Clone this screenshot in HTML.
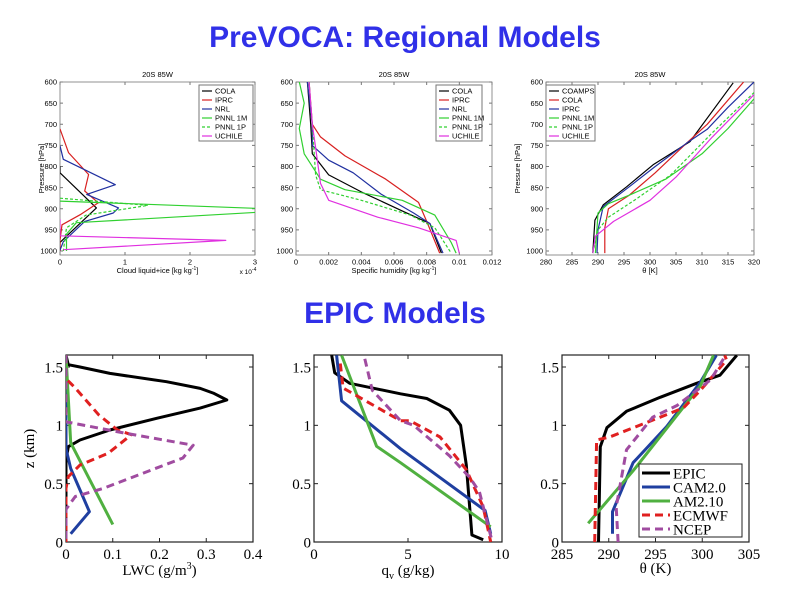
<!DOCTYPE html>
<html><head><meta charset="utf-8"><style>
body{margin:0;background:#fff;width:800px;height:600px;overflow:hidden}
svg{display:block}
</style></head><body>
<svg id="s" width="800" height="600" xmlns="http://www.w3.org/2000/svg">
<text x="405" y="47" text-anchor="middle" font-family="Liberation Sans, sans-serif" font-weight="bold" font-size="30" fill="#3030e8">PreVOCA: Regional Models</text>
<text x="395" y="323" text-anchor="middle" font-family="Liberation Sans, sans-serif" font-weight="bold" font-size="30" fill="#3030e8">EPIC Models</text>
</svg>
<script>
// ---- Top row data (pressure hPa) ----
const cloudCOLA=[[0,800],[0,815],[0.56,898],[0.1,965],[0,980],[0,1000]];
const cloudIPRC=[[0,711],[0.13,767],[0.44,819],[0.38,858],[0.59,886],[0.31,914],[0.03,938],[0,974],[0,1000]];
const cloudNRL=[[0,751],[0.05,783],[0.85,843],[0.41,866],[0.9,898],[0.82,910],[0.38,930],[0.05,978],[0,998]];
const cloudPNNL1M=[[0,882],[3.2,900],[3.2,907],[0.25,933],[0.1,960],[0.1,1000]];
const cloudPNNL1P=[[0,875],[1.35,892],[0.4,915],[0.1,945],[0.05,1000]];
const cloudUCHILE=[[0,925],[0,964],[2.55,975],[0.05,997]];
const qCOLA=[[0.0007,600],[0.0009,700],[0.001,770],[0.002,820],[0.004,860],[0.0065,905],[0.0082,935],[0.0089,1005]];
const qIPRC=[[0.0008,600],[0.001,700],[0.0015,730],[0.003,775],[0.0055,830],[0.0075,885],[0.008,930],[0.0088,1005]];
const qNRL=[[0.0007,600],[0.001,700],[0.001,750],[0.002,785],[0.0035,815],[0.0052,865],[0.0072,910],[0.0082,935],[0.009,1005]];
const qPNNL1M=[[0.0002,600],[0.0005,650],[0.0002,710],[0.0005,770],[0.0015,830],[0.003,855],[0.0065,880],[0.0085,915],[0.0095,980],[0.0098,1005]];
const qPNNL1P=[[0.0008,600],[0.001,700],[0.0012,820],[0.0015,855],[0.004,880],[0.007,915],[0.0085,945],[0.0095,1005]];
const qUCHILE=[[0.0008,600],[0.001,700],[0.0012,755],[0.0015,840],[0.002,880],[0.005,920],[0.0075,945],[0.0098,975],[0.01,1005]];
const thCOAMPS=[[289,1005],[289.4,927],[291,891],[295.5,848],[300.6,796],[307.7,741],[316,602]];
const thCOLA=[[291.3,1005],[291.3,945],[292,900],[296,868],[301,815],[307,745],[311,700],[318,600]];
const thIPRC=[[289.8,1005],[290,950],[291,895],[296,848],[301,800],[307,745],[311,712],[315,660],[320,600]];
const thPNNL1M=[[289.5,1005],[290,910],[292,888],[296,868],[303,830],[310,770],[315,710],[320,640]];
const thPNNL1P=[[289,1005],[290,950],[292,920],[297,880],[304,820],[312,720],[320,625]];
const thUCHILE=[[289,1005],[289.5,965],[293,930],[300,880],[305,825],[312,730],[320,630]];
const presTicks=[600,650,700,750,800,850,900,950,1000];
const cloudTicks=[0,1,2,3];
const qTicks=[0,0.002,0.004,0.006,0.008,0.01,0.012];
const thTopTicks=[280,285,290,295,300,305,310,315,320];
// ---- Bottom row data (z km) ----
const lwcEPIC=[[0,1.6],[0.005,1.52],[0.03,1.5],[0.094,1.445],[0.215,1.374],[0.287,1.317],[0.315,1.276],[0.344,1.217],[0.287,1.148],[0.194,1.06],[0.094,0.96],[0.03,0.874],[0.005,0.817],[0,0.7],[0,0]];
const lwcCAM=[[0,1.6],[0,0.8],[0.01,0.63],[0.05,0.26],[0.01,0.07]];
const lwcAM=[[0,1.6],[0.01,0.85],[0.1,0.15]];
const lwcECMWF=[[0,1.6],[0,1.4],[0.02,1.32],[0.07,1.09],[0.11,0.96],[0.14,0.92],[0.09,0.76],[0.03,0.66],[0.005,0.56],[0,0.46],[0,0]];
const lwcNCEP=[[0,1.6],[0,1.03],[0.13,0.93],[0.272,0.83],[0.25,0.72],[0.08,0.46],[0.02,0.39],[0,0.28],[0,0]];
const qvEPIC=[[0.94,1.6],[1.1,1.45],[1.9,1.36],[4.6,1.27],[6.0,1.23],[7.2,1.13],[7.8,1.0],[8.1,0.66],[8.4,0.06],[9.0,0.02]];
const qvCAM=[[1.2,1.6],[1.47,1.21],[4.6,0.8],[9.1,0.27],[9.4,0.07]];
const qvAM=[[1.47,1.6],[3.33,0.82],[4.6,0.68],[9.4,0.13]];
const qvECMWF=[[1.4,1.53],[1.55,1.32],[4.6,1.04],[5.1,1.04],[6.7,0.9],[8.1,0.62],[9.0,0.3],[9.4,0]];
const qvNCEP=[[2.7,1.57],[3.1,1.3],[4.6,1.04],[5.3,1.0],[7.2,0.74],[8.3,0.55],[8.8,0.43],[9.45,0.02]];
const thEPIC=[[288.9,0],[289.1,0.817],[289.8,0.98],[291.9,1.12],[295.5,1.24],[299.4,1.36],[301.9,1.43],[303.7,1.6]];
const thCAM=[[290.4,0.07],[290.4,0.26],[292.6,0.68],[296.2,0.99],[299.8,1.37],[301.5,1.6]];
const thAM=[[287.8,0.16],[292.6,0.61],[299.8,1.34],[301.2,1.6]];
const thECMWF=[[288.5,0],[288.7,0.874],[290.1,0.9],[295.5,1.07],[298,1.15],[299.8,1.3],[302.6,1.56],[302.4,1.6]];
const thNCEP=[[291,0],[290.8,0.3],[291.9,0.79],[294.7,1.07],[297.3,1.17],[300.9,1.39],[302.5,1.6]];
const zTicks=[0,0.5,1,1.5];
const lwcTicks=[0,0.1,0.2,0.3,0.4];
const qvTicks=[0,5,10];
const thBotTicks=[285,290,295,300,305];

const NS='http://www.w3.org/2000/svg';
const svg=document.getElementById('s');
function mk(tag,attrs,parent){const e=document.createElementNS(NS,tag);for(const k in attrs)e.setAttribute(k,attrs[k]);(parent||svg).appendChild(e);return e;}
function txt(x,y,s,size,anchor,font,parent){const t=mk('text',{x:x,y:y,'font-size':size,'text-anchor':anchor,'font-family':font,fill:'#000'},parent);t.textContent=s;return t;}

function panel(c){
  const g=mk('g',{});
  
  
  const sx=v=>c.x0+(v-c.xmin)/(c.xmax-c.xmin)*(c.x1-c.x0);
  const sy=v=>c.ya+(v-c.vmin)/(c.vmax-c.vmin)*(c.yb-c.ya);
  const cp='cp'+c.name;
  const d=mk('clipPath',{id:cp},g);mk('rect',{x:c.x0,y:c.top,width:c.x1-c.x0,height:c.bot-c.top},d);
  const box=mk('rect',{x:c.x0,y:c.top,width:c.x1-c.x0,height:c.bot-c.top,fill:'#fff',stroke:c.axc,'stroke-width':c.aw},g);
  
  
  const tl=c.top<300?3:4;
  c.xt.forEach(v=>{const X=sx(v);
    mk('line',{x1:X,x2:X,y1:c.bot,y2:c.bot-tl,stroke:c.axc},g);mk('line',{x1:X,x2:X,y1:c.top,y2:c.top+tl,stroke:c.axc},g);
    const t=txt(X,c.bot+c.fs+2,c.xfmt(v),c.fs,'middle',c.font,g);
    
    });
  c.yt.forEach(v=>{const Y=sy(v);
    mk('line',{x1:c.x0,x2:c.x0+tl,y1:Y,y2:Y,stroke:c.axc},g);mk('line',{x1:c.x1,x2:c.x1-tl,y1:Y,y2:Y,stroke:c.axc},g);
    const t=txt(c.x0-3,Y+c.fs*0.35,String(v),c.fs,'end',c.font,g);
    
    });
  const xl=txt((c.x0+c.x1)/2,c.xly,'',c.lfs,'middle',c.font,g);xl.innerHTML=c.xlabel;
  
  
  if(c.ylabel){const yl=txt(0,0,c.ylabel,c.lfs,'middle',c.font,g);yl.setAttribute('transform','translate('+c.ylx+','+(c.top+c.bot)/2+') rotate(-90)');
    
    }
  if(c.title){const t=txt((c.x0+c.x1)/2,c.top-5,c.title,c.fs,'middle',c.font,g);
    
    }
  const lg=mk('g',{'clip-path':'url(#'+cp+')'},g);
  c.series.forEach(s=>{
    const p=mk('polyline',{points:s.d.map(q=>sx(q[0]).toFixed(1)+','+sy(q[1]).toFixed(1)).join(' '),fill:'none',stroke:s.c,'stroke-width':c.lw,'stroke-dasharray':s.dash?c.dash:'none','stroke-linejoin':'round'},lg);
    
    
  });
  if(c.leg){const L=c.leg;
    const lb=mk('rect',{x:L.x,y:L.y,width:L.w,height:L.h,fill:'#fff',stroke:c.axc,'stroke-width':1},g);
    
    
    c.series.forEach((s,i)=>{const Y=L.y+L.p+i*L.dy;
      mk('line',{x1:L.x+3,x2:L.x+3+L.ll,y1:Y,y2:Y,stroke:s.c,'stroke-width':c.lw,'stroke-dasharray':s.dash?c.dash:'none'},g);
      const t=txt(L.x+6+L.ll,Y+L.fs*0.35,s.n,L.fs,'start',c.font,g);
      
      });}
}
const SANS='Liberation Sans, sans-serif',SERIF='Liberation Serif, serif';
const K='#000',R='#d82020',B='#2030a0',G='#30d030',M='#e030e0';
const topBase={top:82,bot:255,ya:82,yb:251,vmin:600,vmax:1000,yt:presTicks,fs:7.5,lfs:7.5,font:SANS,axc:'#777',aw:0.8,lw:1.2,dash:'3,2',xly:273,ylx:44,title:'20S 85W'};
const topLeg={y:85,h:56,p:6,dy:9,ll:10,fs:7.5};
panel(Object.assign({},topBase,{name:'panel-cloud',x0:60,x1:255,xmin:0,xmax:3,xt:cloudTicks,xfmt:v=>String(v),
 xlabel:'Cloud liquid+ice [kg kg<tspan font-size="5" dy="-3">-1</tspan><tspan dy="3">]</tspan>',ylabel:'Pressure [hPa]',
 series:[{n:'COLA',c:K,d:cloudCOLA},{n:'IPRC',c:R,d:cloudIPRC},{n:'NRL',c:B,d:cloudNRL},{n:'PNNL 1M',c:G,d:cloudPNNL1M},{n:'PNNL 1P',c:G,d:cloudPNNL1P,dash:1},{n:'UCHILE',c:M,d:cloudUCHILE}],
 leg:Object.assign({x:199,w:54},topLeg)}));
txt(248,274,'x 10',6.5,'middle',SANS).innerHTML='x 10<tspan font-size="5" dy="-3">-4</tspan>';
panel(Object.assign({},topBase,{name:'panel-humidity',x0:296,x1:492,xmin:0,xmax:0.012,xt:qTicks,xfmt:v=>String(+v.toFixed(3)),
 xlabel:'Specific humidity [kg kg<tspan font-size="5" dy="-3">-1</tspan><tspan dy="3">]</tspan>',ylabel:null,
 series:[{n:'COLA',c:K,d:qCOLA},{n:'IPRC',c:R,d:qIPRC},{n:'NRL',c:B,d:qNRL},{n:'PNNL 1M',c:G,d:qPNNL1M},{n:'PNNL 1P',c:G,d:qPNNL1P,dash:1},{n:'UCHILE',c:M,d:qUCHILE}],
 leg:Object.assign({x:436,w:46},topLeg)}));
panel(Object.assign({},topBase,{name:'panel-theta-top',x0:546,x1:754,xmin:280,xmax:320,xt:thTopTicks,xfmt:v=>String(v),
 xlabel:'θ [K]',ylabel:'Pressure [hPa]',ylx:520,
 series:[{n:'COAMPS',c:K,d:thCOAMPS},{n:'COLA',c:R,d:thCOLA},{n:'IPRC',c:B,d:thIPRC},{n:'PNNL 1M',c:G,d:thPNNL1M},{n:'PNNL 1P',c:G,d:thPNNL1P,dash:1},{n:'UCHILE',c:M,d:thUCHILE}],
 leg:Object.assign({x:546,w:49},topLeg)}));
const BK='#000',BB='#1f3fa0',BG='#50b040',BR='#e02020',BP='#a04ca0';
const botBase={top:355,bot:542,ya:542,yb:367,vmin:0,vmax:1.5,yt:zTicks,fs:15,lfs:15,font:SERIF,axc:'#222',aw:1.2,lw:3,dash:'8,5',xly:575,ylx:34,title:null};
panel(Object.assign({},botBase,{name:'panel-lwc',x0:66,x1:253,xmin:0,xmax:0.4,xt:lwcTicks,xfmt:v=>String(v),
 xlabel:'LWC (g/m<tspan font-size="10" dy="-6">3</tspan><tspan dy="6">)</tspan>',ylabel:'z (km)',
 series:[{n:'EPIC',c:BK,d:lwcEPIC},{n:'CAM2.0',c:BB,d:lwcCAM},{n:'AM2.10',c:BG,d:lwcAM},{n:'ECMWF',c:BR,d:lwcECMWF,dash:1},{n:'NCEP',c:BP,d:lwcNCEP,dash:1}]}));
panel(Object.assign({},botBase,{name:'panel-qv',x0:314,x1:502,xmin:0,xmax:10,xt:qvTicks,xfmt:v=>String(v),
 xlabel:'q<tspan font-size="10" dy="4">v</tspan><tspan dy="-4"> (g/kg)</tspan>',ylabel:null,
 series:[{n:'EPIC',c:BK,d:qvEPIC},{n:'CAM2.0',c:BB,d:qvCAM},{n:'AM2.10',c:BG,d:qvAM},{n:'ECMWF',c:BR,d:qvECMWF,dash:1},{n:'NCEP',c:BP,d:qvNCEP,dash:1}]}));
panel(Object.assign({},botBase,{name:'panel-theta-epic',x0:562,x1:749,xmin:285,xmax:305,xt:thBotTicks,xfmt:v=>String(v),
 xlabel:'θ (K)',ylabel:null,xly:573,
 series:[{n:'EPIC',c:BK,d:thEPIC},{n:'CAM2.0',c:BB,d:thCAM},{n:'AM2.10',c:BG,d:thAM},{n:'ECMWF',c:BR,d:thECMWF,dash:1},{n:'NCEP',c:BP,d:thNCEP,dash:1}],
 leg:{x:639,y:464,w:103,h:73,p:9,dy:14,ll:28,fs:15}}));
</script>
</body></html>
